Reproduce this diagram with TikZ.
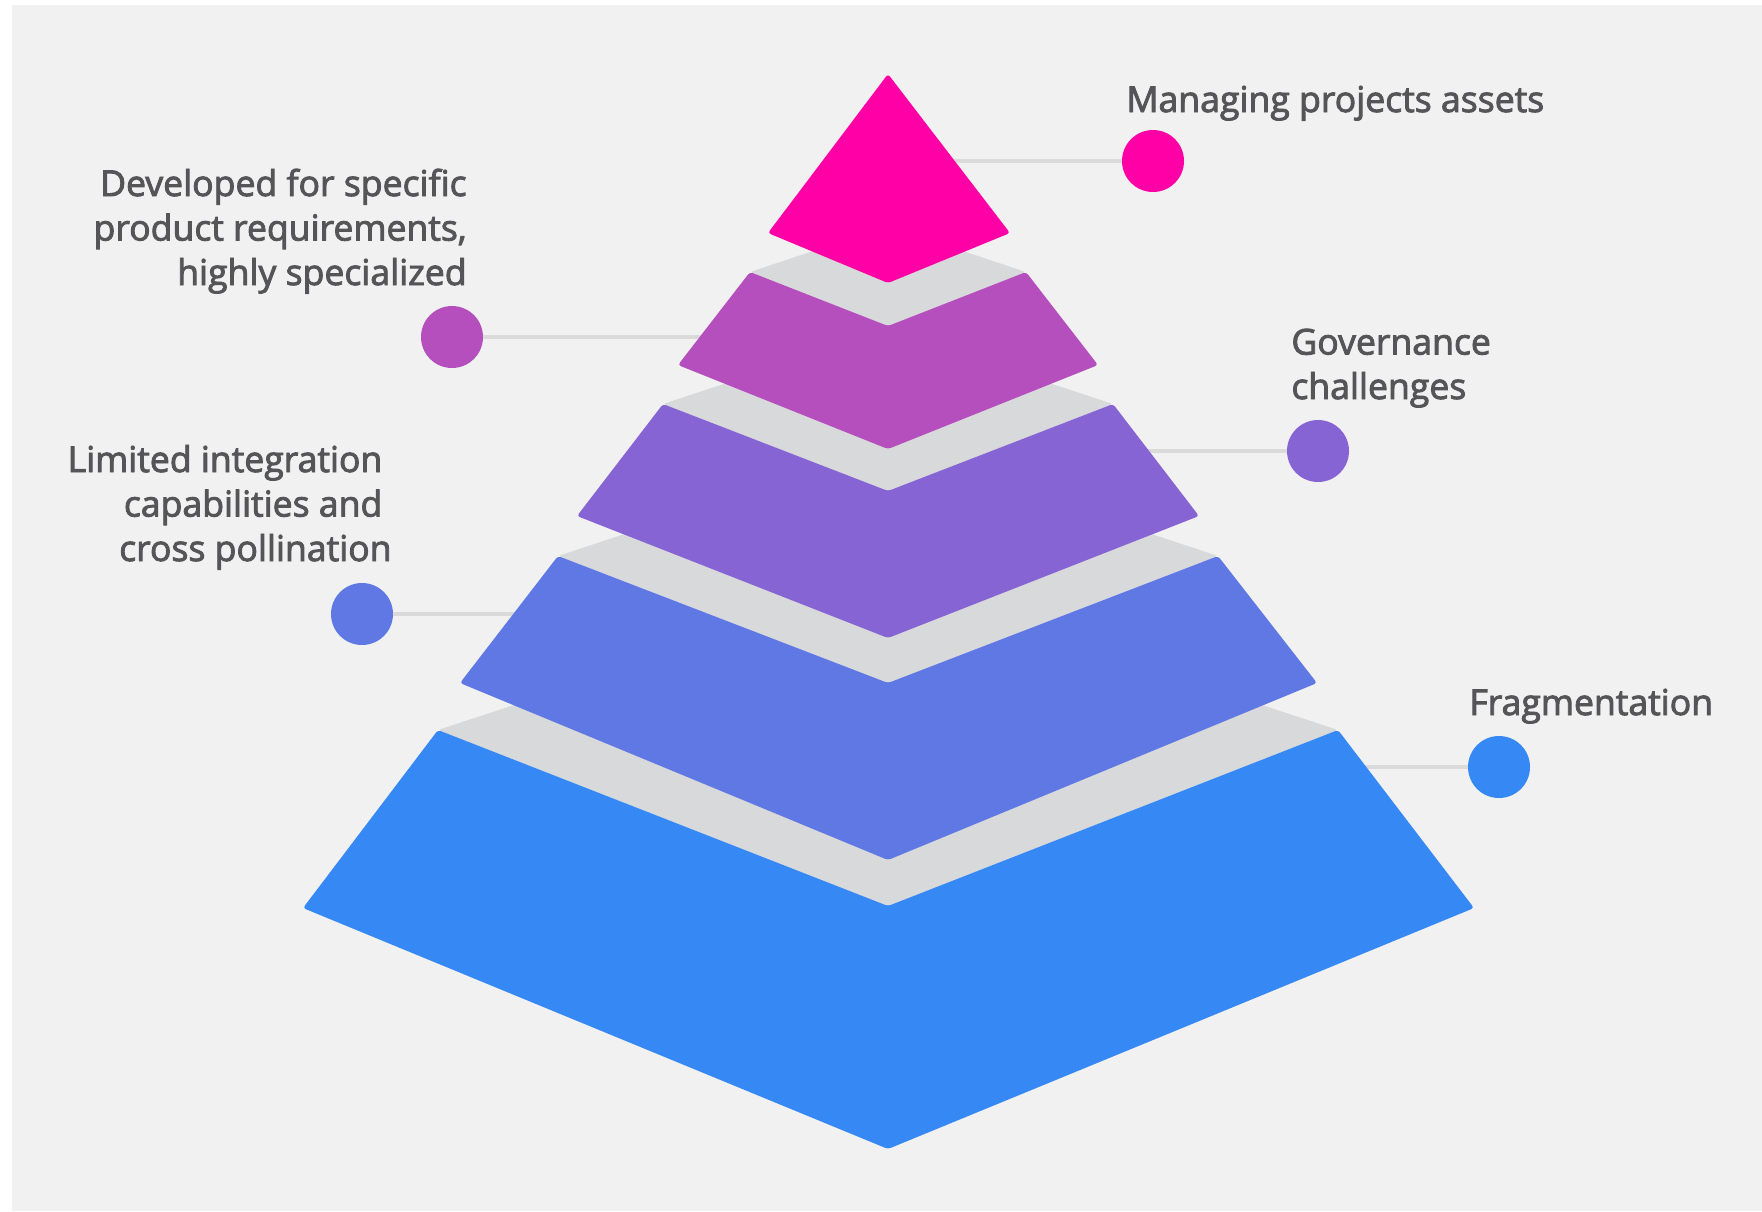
\documentclass[tikz,border=0pt]{standalone}
\usepackage{fontspec}
\setmainfont{Open Sans}
\newfontfamily\labfont{Open Sans}[FakeBold=2.5]
\definecolor{bgC}{HTML}{F1F1F1}
\definecolor{faceC}{HTML}{D8D9DA}
\definecolor{lineC}{HTML}{DADADA}
\definecolor{txtC}{HTML}{555557}
\definecolor{cPink}{HTML}{FF00A6}
\definecolor{cMag}{HTML}{B44FBD}
\definecolor{cPur}{HTML}{8764D3}
\definecolor{cVio}{HTML}{5F78E3}
\definecolor{cBlue}{HTML}{3688F4}
\tikzset{
  dot/.style={circle, inner sep=0pt, minimum size=31pt},
  conn/.style={draw=lineC, line width=2pt},
  lab/.style={font=\labfont\fontsize{17.8pt}{22.25pt}\selectfont, text=txtC, inner sep=0pt},
  face/.style={fill=faceC, rounded corners=1.5pt},
  tier/.style={rounded corners=1.5pt},
}
\begin{document}
\begin{tikzpicture}[x=0.5pt,y=-0.5pt]
\useasboundingbox (0,0) rectangle (1762,1211);
\fill[white] (0,0) rectangle (1762,1211);
\fill[bgC] (12,5) rectangle (1762,1211);

% dots
\node[dot, fill=cPink] (d1) at (1153,161) {};
\node[dot, fill=cMag]  (d2) at (452,337) {};
\node[dot, fill=cPur]  (d3) at (1318,451) {};
\node[dot, fill=cVio]  (d4) at (362,614) {};
\node[dot, fill=cBlue] (d5) at (1499,767) {};

% connector ends (hidden behind the pyramid)
\coordinate (e1) at (888,161);
\coordinate (e2) at (888,337);
\coordinate (e3) at (888,451);
\coordinate (e4) at (888,614);
\coordinate (e5) at (888,767);
\draw[conn] (d1) -- (e1);
\draw[conn] (d2) -- (e2);
\draw[conn] (d3) -- (e3);
\draw[conn] (d4) -- (e4);
\draw[conn] (d5) -- (e5);

% tier 5 (bottom)
\path[face] (438,730) -- (888,582) -- (1338,730) -- (888,906) -- cycle;
\path[tier, fill=cBlue] (438,730) -- (888,906) -- (1338,730) -- (1474,908) -- (888,1149) -- (303,908) -- cycle;
% tier 4
\path[face] (558,556) -- (888,447) -- (1218,556) -- (888,683) -- cycle;
\path[tier, fill=cVio] (558,556) -- (888,683) -- (1218,556) -- (1317,683) -- (888,860) -- (460,683) -- cycle;
% tier 3
\path[face] (663,404) -- (888,330) -- (1113,404) -- (888,491) -- cycle;
\path[tier, fill=cPur] (663,404) -- (888,491) -- (1113,404) -- (1199,516) -- (888,638) -- (577,516) -- cycle;
% tier 2
\path[face] (750,272) -- (888,226) -- (1026,272) -- (888,326) -- cycle;
\path[tier, fill=cMag] (750,272) -- (888,326) -- (1026,272) -- (1098,365) -- (888,449) -- (678,365) -- cycle;
% tier 1 (top)
\path[tier, fill=cPink] (888,74) -- (1010,233) -- (888,283) -- (768,233) -- cycle;

% labels (multi-line nodes: base = last line)
\node[lab, anchor=base west] (t1) at (1126,112) {Managing projects assets};
\node[lab, align=right, anchor=base east] (t2) at (467,285) {Developed for specific\\product requirements,\\highly specialized};
\node[lab, align=left, anchor=base west] (t3) at (1291,399) {Governance\\challenges};
\node[lab, align=right, anchor=base east] (t4) at (392,561) {Limited integration\kern0.26em\\capabilities and\kern0.26em\\cross pollination};
\node[lab, anchor=base west] (t5) at (1469,715) {Fragmentation};
\end{tikzpicture}
\end{document}
